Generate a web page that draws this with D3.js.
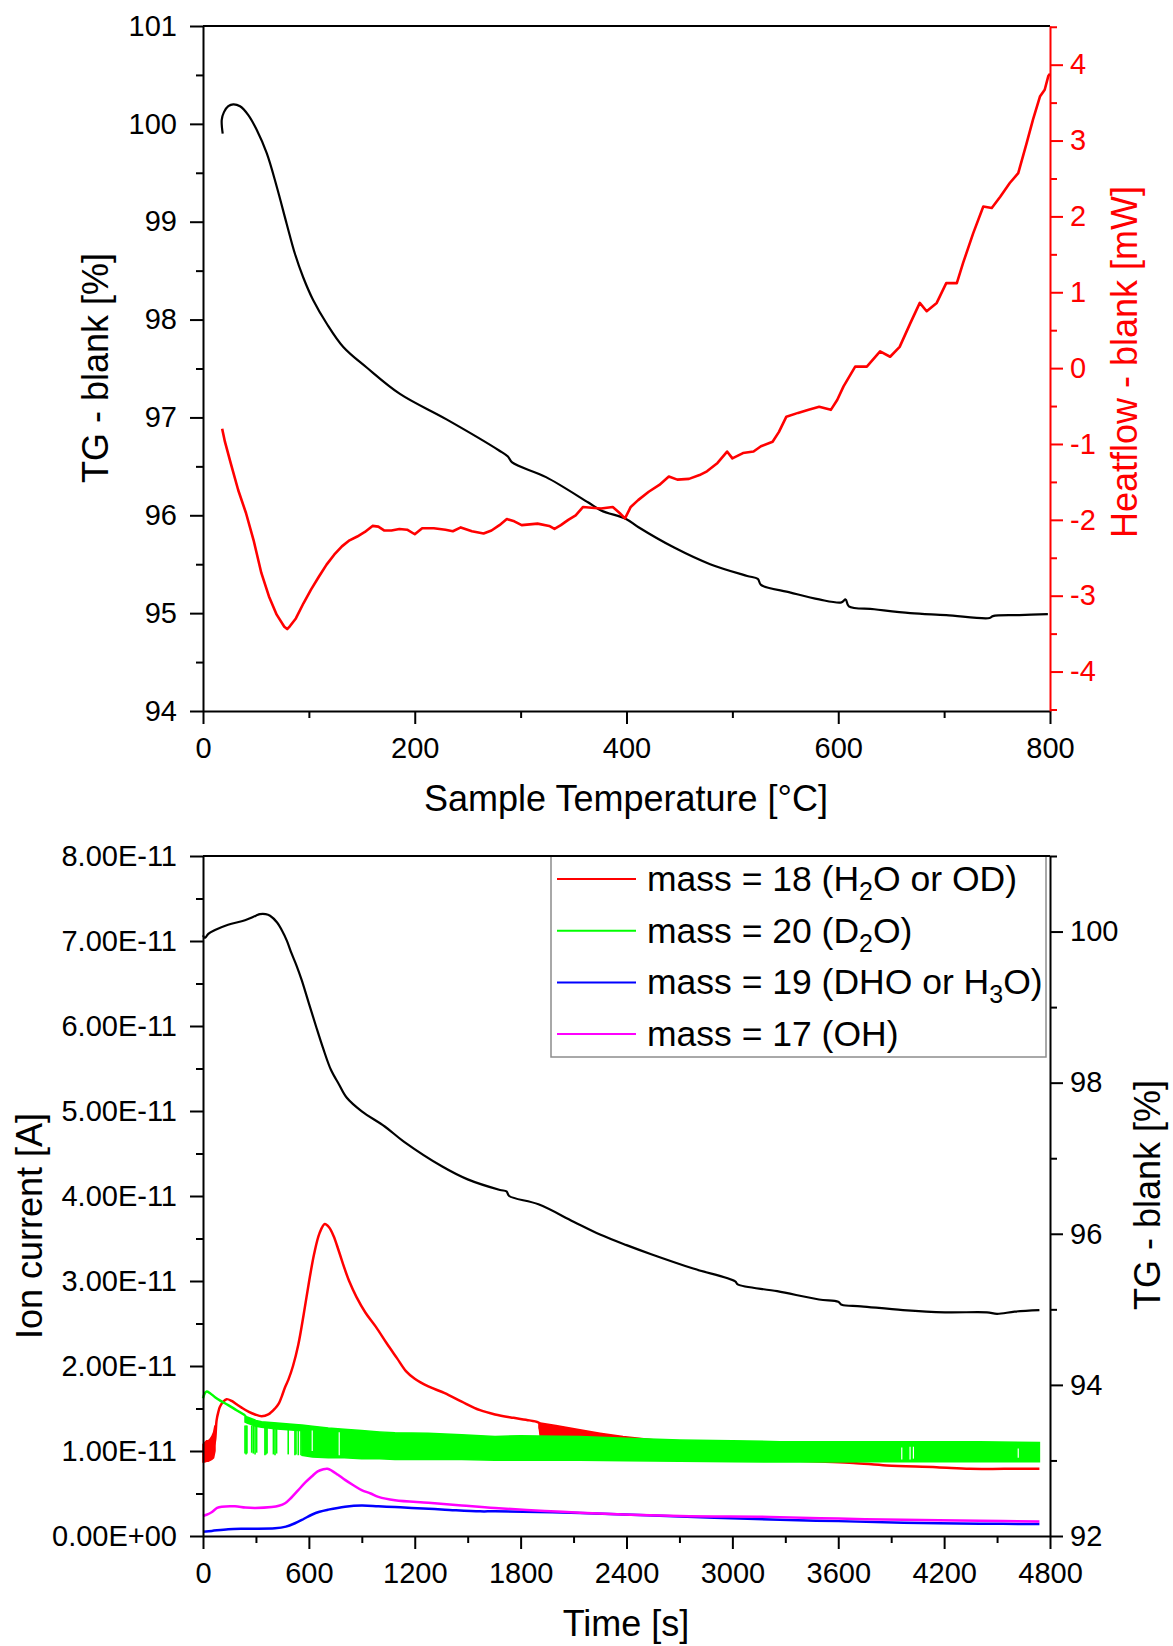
<!DOCTYPE html>
<html>
<head>
<meta charset="utf-8">
<script src="https://cdn.jsdelivr.net/npm/d3@7"></script>
<style>
  body { margin: 0; background: #fff; }
  svg { display: block; font-family: Arial, "Liberation Sans", sans-serif; }
</style>
</head>
<body>
<svg width="1173" height="1646"></svg>
<script>

// ===== DATA : top panel (TG and heatflow vs sample temperature) =====
var tgTemp = [18.6, 17.7, 19.8, 23.9, 28.6, 35, 42.8, 50.7, 60.2, 69.6, 79, 86.9, 94.7, 104, 116.8, 132.5, 154.6, 186, 230, 280, 288, 292, 324, 364, 376, 400, 411, 445, 479, 514, 524, 527, 555, 582, 603, 607, 610, 634, 668, 702, 743, 746, 771, 798];
var tgTop  = [99.90, 100.04, 100.12, 100.18, 100.20, 100.18, 100.09, 99.94, 99.70, 99.36, 98.98, 98.67, 98.43, 98.20, 97.96, 97.72, 97.51, 97.24, 96.98, 96.66, 96.60, 96.54, 96.39, 96.13, 96.05, 95.96, 95.88, 95.67, 95.50, 95.38, 95.35, 95.29, 95.21, 95.14, 95.11, 95.14, 95.07, 95.04, 95.00, 94.98, 94.95, 94.97, 94.98, 94.99];

var hfTemp = [18.1, 20.7, 26.1, 33.3, 40.6, 47.8, 55.1, 62.3, 69.6, 76.8, 79.5, 82.2, 87.7, 94.9, 102, 109.4, 116.7, 123.9, 131.2, 138.4, 145.7, 152.9, 160.1, 165.6, 171, 178, 185.5, 192.8, 200, 207, 218, 229, 236, 243.5, 254, 265, 272.5, 280, 287, 294, 301, 316, 327, 332, 338, 345, 352, 359, 367, 376, 387, 393.5, 398.6, 404, 411, 421, 431, 440, 448, 459, 469, 476, 486, 495, 500, 510, 520, 527, 538, 544, 551, 562, 572, 582, 593, 599, 605, 616, 627, 639.5, 649, 658, 668, 677, 683.5, 693, 702, 712, 718, 727.5, 737, 745, 753, 762, 770, 778, 784, 790.5, 795, 798.4, 800];
var hfVal  = [-0.80, -0.97, -1.25, -1.61, -1.91, -2.27, -2.70, -3.01, -3.25, -3.41, -3.44, -3.40, -3.30, -3.10, -2.92, -2.75, -2.59, -2.46, -2.35, -2.27, -2.22, -2.16, -2.08, -2.09, -2.14, -2.14, -2.12, -2.13, -2.19, -2.11, -2.11, -2.13, -2.15, -2.10, -2.15, -2.18, -2.14, -2.07, -1.99, -2.02, -2.07, -2.05, -2.08, -2.12, -2.07, -2.00, -1.94, -1.83, -1.84, -1.85, -1.83, -1.91, -1.98, -1.83, -1.74, -1.63, -1.54, -1.43, -1.47, -1.46, -1.41, -1.36, -1.25, -1.10, -1.19, -1.12, -1.10, -1.03, -0.97, -0.84, -0.64, -0.59, -0.55, -0.51, -0.55, -0.42, -0.24, 0.02, 0.02, 0.22, 0.15, 0.28, 0.59, 0.86, 0.75, 0.86, 1.12, 1.12, 1.39, 1.78, 2.13, 2.11, 2.26, 2.44, 2.57, 2.97, 3.28, 3.58, 3.67, 3.85, 3.88];

// ===== DATA : bottom panel (ion currents in 1E-11 A, TG vs time) =====
var tgTime   = [0, 8, 14, 30, 68, 142, 238, 300, 323, 355, 380, 420, 446, 475, 502, 530, 559, 600, 640, 680, 725, 770, 815, 900, 1030, 1138, 1356, 1500, 1683, 1720, 1735, 1901, 2100, 2250, 2400, 2540, 2778, 3016, 3030, 3254, 3491, 3600, 3620, 3729, 3967, 4205, 4443, 4500, 4600, 4740];
var tgBottom = [99.95, 99.92, 99.92, 99.97, 100.02, 100.09, 100.15, 100.21, 100.23, 100.23, 100.21, 100.12, 100.02, 99.88, 99.71, 99.55, 99.36, 99.05, 98.75, 98.46, 98.17, 97.98, 97.80, 97.62, 97.42, 97.22, 96.89, 96.72, 96.58, 96.56, 96.50, 96.39, 96.16, 95.99, 95.85, 95.73, 95.54, 95.37, 95.33, 95.24, 95.13, 95.10, 95.06, 95.04, 94.99, 94.96, 94.96, 94.94, 94.97, 94.99];

// mass 18
var m18Time = [0, 20, 40, 60, 68, 77, 87, 96, 115, 134, 162, 190, 219, 260, 295, 332, 370, 408, 430, 446, 465, 484, 510, 540, 570, 600, 630, 660, 690, 715, 740, 770, 800, 830, 870, 920, 980, 1040, 1100, 1150, 1200, 1277, 1370, 1466, 1570, 1655, 1760, 1850, 1905, 1912, 2000, 2136, 2300, 2450, 2600, 2800, 3000, 3200, 3496, 3685, 3874, 4157, 4346, 4540, 4740];
var m18Val  = [0.95, 0.97, 1.00, 1.06, 1.12, 1.36, 1.46, 1.52, 1.58, 1.61, 1.59, 1.55, 1.51, 1.46, 1.43, 1.41, 1.43, 1.50, 1.56, 1.64, 1.75, 1.84, 2.00, 2.25, 2.60, 2.98, 3.32, 3.56, 3.67, 3.63, 3.53, 3.35, 3.16, 2.99, 2.81, 2.63, 2.46, 2.27, 2.09, 1.94, 1.85, 1.76, 1.68, 1.58, 1.48, 1.43, 1.39, 1.36, 1.33, 1.25, 1.22, 1.18, 1.14, 1.11, 1.05, 0.95, 0.92, 0.90, 0.875, 0.86, 0.83, 0.81, 0.79, 0.79, 0.79];
// noisy stretches of mass 18 (min / max envelope)
var m18StartTime = [0, 10, 20, 30, 40, 50, 60, 68];
var m18StartHi   = [1.08, 1.10, 1.12, 1.12, 1.14, 1.17, 1.22, 1.30];
var m18StartLo   = [0.87, 0.87, 0.88, 0.88, 0.89, 0.90, 0.92, 1.00];
var m18MidTime = [1905, 1912, 2000, 2136, 2250, 2380, 2560];
var m18MidHi   = [1.33, 1.33, 1.30, 1.25, 1.21, 1.17, 1.13];
var m18MidLo   = [1.28, 1.15, 1.13, 1.10, 1.08, 1.06, 1.02];

// mass 20 : single trace at start, then a dense noise band (min / max envelope)
var m20Time = [0, 10, 21, 40, 70, 100, 143, 190, 238];
var m20Val  = [1.62, 1.68, 1.70, 1.68, 1.63, 1.59, 1.54, 1.48, 1.42];
var m20BandTime = [238, 250, 300, 332, 420, 540, 560, 561, 620, 710, 800, 899, 1000, 1088, 1277, 1466, 1655, 1800, 2000, 2136, 2400, 2703, 3000, 3270, 3500, 3800, 4100, 4400, 4740];
var m20BandHi   = [1.42, 1.40, 1.36, 1.345, 1.33, 1.31, 1.305, 1.305, 1.29, 1.27, 1.255, 1.24, 1.225, 1.215, 1.21, 1.19, 1.17, 1.18, 1.175, 1.17, 1.15, 1.13, 1.12, 1.11, 1.11, 1.11, 1.11, 1.11, 1.10];
var m20BandLo   = [1.34, 1.33, 1.29, 1.28, 1.26, 1.24, 1.24, 0.95, 0.93, 0.92, 0.92, 0.91, 0.91, 0.90, 0.90, 0.90, 0.89, 0.89, 0.89, 0.89, 0.885, 0.88, 0.875, 0.87, 0.87, 0.875, 0.875, 0.875, 0.875];
// single downward spikes before the band closes
var m20SpikeTime = [238, 244, 249, 276, 285, 295, 304, 351, 357, 363, 399, 408, 417, 483, 521, 527, 540, 555];
var m20SpikeLo   = [0.97, 0.96, 0.97, 0.98, 0.97, 0.96, 0.98, 0.95, 0.96, 0.97, 0.96, 0.95, 0.97, 0.96, 0.95, 0.96, 0.95, 0.95];
// thin gaps inside the band
var m20GapTime = [619, 772, 3960, 4007, 4026, 4620];
var m20GapHi   = [1.24, 1.22, 1.04, 1.05, 1.05, 1.03];
var m20GapLo   = [1.00, 0.95, 0.90, 0.90, 0.91, 0.92];

// mass 19
var m19Time = [0, 50, 143, 250, 408, 470, 521, 570, 616, 660, 710, 805, 899, 994, 1088, 1183, 1371, 1570, 1655, 2136, 2703, 3270, 3600, 3969, 4400, 4740];
var m19Val  = [0.05, 0.06, 0.08, 0.085, 0.09, 0.11, 0.15, 0.20, 0.25, 0.285, 0.31, 0.345, 0.36, 0.35, 0.34, 0.33, 0.31, 0.29, 0.29, 0.27, 0.23, 0.19, 0.175, 0.157, 0.145, 0.14];

// mass 17
var m17Time = [0, 20, 49, 80, 106, 181, 240, 295, 389, 430, 465, 500, 540, 580, 616, 650, 682, 705, 729, 765, 805, 850, 899, 950, 994, 1088, 1277, 1466, 1655, 2136, 2703, 3213, 3600, 3969, 4400, 4740];
var m17Val  = [0.235, 0.25, 0.28, 0.33, 0.345, 0.35, 0.335, 0.33, 0.34, 0.355, 0.385, 0.45, 0.54, 0.63, 0.70, 0.76, 0.785, 0.79, 0.77, 0.72, 0.66, 0.60, 0.54, 0.50, 0.46, 0.42, 0.39, 0.36, 0.33, 0.274, 0.235, 0.225, 0.205, 0.19, 0.18, 0.17];

// ===== ticks and labels =====
var topXTicks = [0, 200, 400, 600, 800], topXMinor = [100, 300, 500, 700];
var topYTicks = [94, 95, 96, 97, 98, 99, 100, 101], topYMinor = [94.5, 95.5, 96.5, 97.5, 98.5, 99.5, 100.5];
var hfTicks = [-4, -3, -2, -1, 0, 1, 2, 3, 4], hfMinor = [-4.5, -3.5, -2.5, -1.5, -0.5, 0.5, 1.5, 2.5, 3.5, 4.5];
var botXTicks = [0, 600, 1200, 1800, 2400, 3000, 3600, 4200, 4800], botXMinor = [300, 900, 1500, 2100, 2700, 3300, 3900, 4500];
var ionTicks = [0, 1, 2, 3, 4, 5, 6, 7, 8], ionMinor = [0.5, 1.5, 2.5, 3.5, 4.5, 5.5, 6.5, 7.5];
var tg2Ticks = [92, 94, 96, 98, 100], tg2Minor = [93, 95, 97, 99, 101];

var legendColors = ["#ff0000", "#00ff00", "#0000ff", "#ff00ff"];
var legendLabels = [["mass = 18 (H", "2", "O or OD)"], ["mass = 20 (D", "2", "O)"], ["mass = 19 (DHO or H", "3", "O)"], ["mass = 17 (OH)"]];


var svg = d3.select("svg");
var tickFont = 29, titleFont = 36;
var smooth = d3.curveCatmullRom.alpha(0.5);

function pairs(xs, ys) {
  return xs.map(function(x, i) { return [x, ys[i]]; });
}

// draw one axis (major + minor ticks)
function drawAxis(axisFn, scale, major, minor, pos, color, fmt, pad) {
  var g = svg.append("g").attr("transform", pos);
  g.call(axisFn(scale).tickValues(major).tickSize(13).tickSizeOuter(0).tickPadding(pad).tickFormat(fmt));
  g.attr("font-size", tickFont).attr("font-family", "Arial, 'Liberation Sans', sans-serif");
  g.selectAll("path, line").attr("stroke", color).attr("stroke-width", 2);
  g.selectAll("text").attr("fill", color);

  var m = svg.append("g").attr("transform", pos);
  m.call(axisFn(scale).tickValues(minor).tickSize(7).tickSizeOuter(0).tickFormat(""));
  m.select(".domain").remove();
  m.selectAll("line").attr("stroke", color).attr("stroke-width", 2);
}

function sci(v) {
  if (v === 0) return "0.00E+00";
  return v.toFixed(2) + "E-11";
}

function plain(v) { return "" + v; }


// ================= TOP PANEL =================
var xT = d3.scaleLinear().domain([0, 800]).range([203, 1050]);
var yTG = d3.scaleLinear().domain([94, 101]).range([711, 26]);
var yHF = d3.scaleLinear().domain([-4.52, 4.51]).range([711, 26]);

// frame top
svg.append("line").attr("x1", 203).attr("x2", 1050).attr("y1", 26).attr("y2", 26)
  .attr("stroke", "#000").attr("stroke-width", 2);

// TG curve
svg.append("path")
  .datum(pairs(tgTemp, tgTop))
  .attr("d", d3.line().curve(smooth).x(function(d) { return xT(d[0]); }).y(function(d) { return yTG(d[1]); }))
  .attr("fill", "none").attr("stroke", "#000").attr("stroke-width", 2.2);

// heatflow curve
svg.append("path")
  .datum(pairs(hfTemp, hfVal))
  .attr("d", d3.line().x(function(d) { return xT(d[0]); }).y(function(d) { return yHF(d[1]); }))
  .attr("fill", "none").attr("stroke", "#ff0000").attr("stroke-width", 2.6).attr("stroke-linejoin", "round");

drawAxis(d3.axisBottom, xT, topXTicks, topXMinor, "translate(0,711)", "#000", plain, 13);
drawAxis(d3.axisLeft, yTG, topYTicks, topYMinor, "translate(203,0)", "#000", plain, 13);
drawAxis(d3.axisRight, yHF, hfTicks, hfMinor, "translate(1050,0)", "#ff0000", plain, 7);

svg.append("text").attr("transform", "translate(108,368) rotate(-90)")
  .attr("text-anchor", "middle").attr("font-size", titleFont).text("TG - blank [%]");
svg.append("text").attr("transform", "translate(1137,362) rotate(-90)")
  .attr("text-anchor", "middle").attr("font-size", titleFont).attr("fill", "#ff0000").text("Heatflow - blank [mW]");
svg.append("text").attr("x", 626).attr("y", 811)
  .attr("text-anchor", "middle").attr("font-size", titleFont).text("Sample Temperature [°C]");


// ================= BOTTOM PANEL =================
var xB = d3.scaleLinear().domain([0, 4800]).range([203, 1050]);
var yIon = d3.scaleLinear().domain([0, 8]).range([1536, 856]);
var yTG2 = d3.scaleLinear().domain([92, 101]).range([1536, 856]);

var ionLine = d3.line().curve(smooth).x(function(d) { return xB(d[0]); }).y(function(d) { return yIon(d[1]); });
var ionBand = d3.area().x(function(d) { return xB(d[0]); })
  .y0(function(d) { return yIon(d[1]); }).y1(function(d) { return yIon(d[2]); });

function bandData(ts, lo, hi) {
  return ts.map(function(t, i) { return [t, lo[i], hi[i]]; });
}

// mass 18
svg.append("path").datum(bandData(m18StartTime, m18StartLo, m18StartHi)).attr("d", ionBand)
  .attr("fill", "#ff0000").attr("stroke", "#ff0000").attr("stroke-width", 1.5);
svg.append("path").datum(pairs(m18Time, m18Val)).attr("d", ionLine)
  .attr("fill", "none").attr("stroke", "#ff0000").attr("stroke-width", 2.5);
svg.append("path").datum(bandData(m18MidTime, m18MidLo, m18MidHi)).attr("d", ionBand)
  .attr("fill", "#ff0000").attr("stroke", "#ff0000").attr("stroke-width", 1.5);

// mass 20
svg.append("path").datum(pairs(m20Time, m20Val)).attr("d", ionLine)
  .attr("fill", "none").attr("stroke", "#00ff00").attr("stroke-width", 2.5);
svg.append("path").datum(bandData(m20BandTime, m20BandLo, m20BandHi)).attr("d", ionBand)
  .attr("fill", "#00ff00").attr("stroke", "#00ff00").attr("stroke-width", 1.5);
svg.selectAll(".spike").data(pairs(m20SpikeTime, m20SpikeLo)).enter()
  .append("line").attr("class", "spike")
  .attr("x1", function(d) { return xB(d[0]); }).attr("x2", function(d) { return xB(d[0]); })
  .attr("y1", function(d) { return yIon(1.30); }).attr("y2", function(d) { return yIon(d[1]); })
  .attr("stroke", "#00ff00").attr("stroke-width", 1.6);
svg.selectAll(".gap").data(m20GapTime).enter()
  .append("line").attr("class", "gap")
  .attr("x1", function(d) { return xB(d); }).attr("x2", function(d) { return xB(d); })
  .attr("y1", function(d, i) { return yIon(m20GapHi[i]); }).attr("y2", function(d, i) { return yIon(m20GapLo[i]); })
  .attr("stroke", "#fff").attr("stroke-width", 1.2);

// mass 19 and 17
svg.append("path").datum(pairs(m19Time, m19Val)).attr("d", ionLine)
  .attr("fill", "none").attr("stroke", "#0000ff").attr("stroke-width", 2.5);
svg.append("path").datum(pairs(m17Time, m17Val)).attr("d", ionLine)
  .attr("fill", "none").attr("stroke", "#ff00ff").attr("stroke-width", 2.5);

// TG on right axis
svg.append("path")
  .datum(pairs(tgTime, tgBottom))
  .attr("d", d3.line().curve(smooth).x(function(d) { return xB(d[0]); }).y(function(d) { return yTG2(d[1]); }))
  .attr("fill", "none").attr("stroke", "#000").attr("stroke-width", 2.2);

// legend
var leg = svg.append("g");
leg.append("rect").attr("x", 551).attr("y", 856).attr("width", 495).attr("height", 201)
  .attr("fill", "#fff").attr("stroke", "#8c8c8c").attr("stroke-width", 1.5);
legendLabels.forEach(function(parts, i) {
  var cy = 879 + i * 51.7;
  leg.append("line").attr("x1", 557).attr("x2", 636).attr("y1", cy).attr("y2", cy)
    .attr("stroke", legendColors[i]).attr("stroke-width", 2);
  var t = leg.append("text").attr("x", 647).attr("y", cy + 12).attr("font-size", 35.5);
  t.append("tspan").text(parts[0]);
  if (parts.length > 1) {
    t.append("tspan").attr("dy", 9).attr("font-size", 25).text(parts[1]);
    t.append("tspan").attr("dy", -9).text(parts[2]);
  }
});

// frame top
svg.append("line").attr("x1", 203).attr("x2", 1050).attr("y1", 856).attr("y2", 856)
  .attr("stroke", "#000").attr("stroke-width", 2);

drawAxis(d3.axisBottom, xB, botXTicks, botXMinor, "translate(0,1536)", "#000", plain, 13);
drawAxis(d3.axisLeft, yIon, ionTicks, ionMinor, "translate(203,0)", "#000", sci, 13);
drawAxis(d3.axisRight, yTG2, tg2Ticks, tg2Minor, "translate(1050,0)", "#000", plain, 7);

svg.append("text").attr("transform", "translate(42,1226) rotate(-90)")
  .attr("text-anchor", "middle").attr("font-size", titleFont).text("Ion current [A]");
svg.append("text").attr("transform", "translate(1160,1195) rotate(-90)")
  .attr("text-anchor", "middle").attr("font-size", titleFont).text("TG - blank [%]");
svg.append("text").attr("x", 626).attr("y", 1636)
  .attr("text-anchor", "middle").attr("font-size", titleFont).text("Time [s]");

</script>
</body>
</html>
